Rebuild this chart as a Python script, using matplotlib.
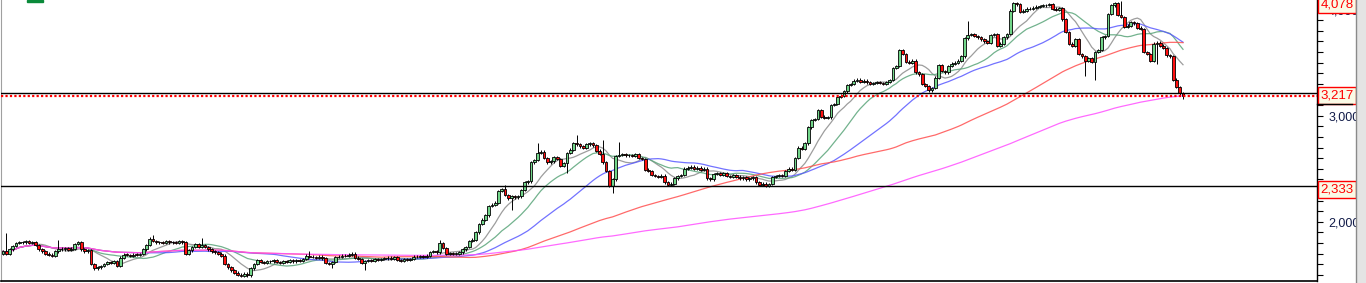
import numpy as np
import pandas as pd
import matplotlib
matplotlib.use("Agg")
import matplotlib.pyplot as plt
import matplotlib.transforms as mtransforms
from matplotlib.ticker import FixedLocator, MultipleLocator, FuncFormatter
from matplotlib.patches import Rectangle
from matplotlib.lines import Line2D

# daily closes, left to right (one list per stretch)
close_a = [1720, 1700, 1740, 1770, 1800, 1810, 1805, 1815, 1800, 1810,
           1780, 1740, 1720, 1700, 1690, 1680, 1720, 1745, 1740, 1750,
           1735, 1745, 1790, 1810, 1740, 1720, 1730, 1600, 1560, 1570,
           1580, 1600, 1620, 1610, 1630, 1580, 1660, 1690, 1685, 1680,
           1690, 1685, 1695, 1740, 1780, 1840, 1820, 1805, 1810, 1800,
           1815, 1805, 1810, 1800, 1815, 1805, 1700, 1730, 1760, 1790,
           1760]
close_b = [1780, 1760, 1740, 1720, 1710, 1700, 1680,
           1600, 1570,
           1540, 1520, 1500, 1490, 1510, 1495,
           1560, 1600, 1640,
           1620, 1610, 1630, 1625, 1640, 1620, 1615, 1630, 1620, 1635,
           1625, 1640, 1630, 1650,
           1680, 1670,
           1665, 1660, 1670, 1655,
           1610, 1600, 1620,
           1665, 1670, 1680, 1675, 1690, 1700,
           1660, 1650, 1610, 1630,
           1635, 1630, 1645, 1640,
           1650, 1655, 1660, 1650, 1665, 1640]
close_c = [1630, 1645, 1640, 1650,
           1670, 1665, 1675, 1670, 1680,
           1715, 1720, 1710,
           1800, 1750,
           1700, 1705, 1695, 1700, 1710,
           1740, 1760,
           1820, 1830,
           1900, 1980, 2020, 2060,
           2150, 2160, 2180,
           2290, 2310,
           2250, 2220, 2240, 2230, 2240,
           2300, 2370, 2380,
           2560, 2580,
           2650, 2660,
           2600, 2560, 2570,
           2610, 2590,
           2530, 2550,
           2650, 2680,
           2740, 2730,
           2710, 2700,
           2730, 2740, 2720, 2670]
close_d = [2640, 2560, 2480, 2340,
           2400,
           2620,
           2630, 2640, 2625, 2630, 2620, 2635,
           2600, 2590,
           2490, 2480,
           2440, 2430, 2420, 2435,
           2370, 2350, 2360,
           2410, 2430, 2440,
           2500, 2510, 2520, 2500, 2510, 2490, 2500,
           2410, 2400,
           2450, 2460, 2440, 2455,
           2430, 2420, 2440, 2425, 2410, 2420,
           2400, 2410, 2420,
           2370, 2350, 2360, 2340, 2355,
           2420, 2430, 2440, 2435,
           2480, 2500, 2490,
           2600, 2700]
close_e = [2690, 2740,
           2890,
           2960, 2970,
           3050,
           2990, 2980, 2985,
           3100, 3110,
           3180, 3190,
           3230,
           3290, 3300,
           3330, 3340,
           3320, 3330, 3315,
           3300, 3310, 3320,
           3310, 3300,
           3320, 3335,
           3450, 3470,
           3620,
           3580, 3510,
           3500, 3520,
           3410, 3390,
           3300, 3280,
           3240, 3260,
           3360,
           3480,
           3420, 3410,
           3470, 3490,
           3500, 3520,
           3560,
           3730,
           3760, 3770, 3750,
           3740, 3720,
           3700, 3690,
           3760, 3770,
           3660]
close_f = [3680, 3740, 3770,
           3990,
           4060, 4050,
           3980,
           3990, 4010, 4005,
           4020, 4030, 4035,
           4040, 4045, 4050,
           4010, 4000, 4015,
           3910,
           3790,
           3680, 3660,
           3720,
           3580, 3560,
           3520, 3540, 3510,
           3600, 3620,
           3740, 3750,
           3960,
           4040, 4060,
           3950, 3930,
           3840, 3850,
           3880, 3870,
           3830, 3820,
           3600, 3580,
           3520,
           3680, 3690,
           3660, 3640,
           3570, 3560,
           3340, 3270,
           3210, 3190]
closes = close_a + close_b + close_c + close_d + close_e + close_f
first_open = 1700

# candles with a visibly long wick: index -> (high, low)
long_wicks = {1: (1890, None), 17: (1825, None), 46: (1875, None),
              61: (1850, None), 94: (1720, None), 101: (None, 1560),
              111: (None, 1540), 134: (1830, None), 154: (2350, None),
              156: (None, 2110), 164: (2745, None), 173: (None, 2460),
              176: (2820, None), 184: (2770, None), 187: (None, 2270),
              189: (2750, None), 296: (3890, None), 332: (None, 3370),
              335: (None, 3340), 343: (4078, None), 354: (None, 3490),
              362: (None, 3160)}

ma_periods = [10, 20, 40, 90, 180]
ma_colors = ["#8c8c8c", "#5aa57a", "#5a5aff", "#ff5050", "#ff50ff"]

level_lines = [3217, 2333]
last_price = 3190
box_labels = [4078, 3217, 2333]
major_ticks = [2000, 3000, 4000]

W, H = 1366, 283
fig = plt.figure(figsize=(W / 100, H / 100), dpi=100)
fig.patch.set_facecolor("white")
ax = fig.add_axes([1 / W, 2 / H, 1316 / W, 281 / H])

n = len(closes)
idx = np.arange(n)
c = np.array(closes, dtype=float)
o = np.r_[first_open, c[:-1]]
hi = np.maximum(o, c) + 12
lo = np.minimum(o, c) - 12
for i, (h, l) in long_wicks.items():
    if i < n:
        if h is not None:
            hi[i] = h
        if l is not None:
            lo[i] = l

# moving averages
s = pd.Series(c)
for p, col in zip(ma_periods, ma_colors):
    ax.plot(idx, s.rolling(p, min_periods=1).mean(), color=col, lw=0.9,
            alpha=0.85, zorder=2)

# candles
up = c >= o
body_lo = np.minimum(o, c)
body_h = np.maximum(np.abs(c - o), 6)
ax.vlines(idx, lo, hi, color="black", lw=0.7, zorder=3)
ax.bar(idx, body_h, bottom=body_lo, width=0.85,
       color=np.where(up, "#72d68a", "#ff1010"), edgecolor="black",
       linewidth=0.6, zorder=4)

for v in level_lines:
    ax.axhline(v, color="black", lw=1.0, zorder=5)
ax.axhline(last_price, color="#ff0000", lw=1.6, ls=(0, (1, 1)), zorder=5)

# spacing: first candle at x=3px, last at x=1183px
step = (1183 - 3) / (n - 1)
ax.set_xlim(-(3 - 1) / step, (1317 - 3) / step)
y_top, y_bot = 4091.5, 1440.6
ax.set_ylim(y_bot, y_top)

ax.yaxis.tick_right()
ax.yaxis.set_major_locator(FixedLocator(major_ticks))
ax.yaxis.set_minor_locator(MultipleLocator(100))
ax.yaxis.set_major_formatter(FuncFormatter(lambda v, p: f"{int(v):,}"))
ax.tick_params(axis="y", which="both", direction="out", length=4,
               width=0.8, color="black", pad=4, labelsize=9,
               labelcolor="#101a48")
for t in ax.get_yticklabels():
    t.set_family("Liberation Sans")
ax.set_xticks([])

ax.spines["top"].set_visible(False)
ax.spines["left"].set_color("#a0a0a0")
ax.spines["right"].set_color("black")
ax.spines["bottom"].set_color("black")
ax.spines["right"].set_linewidth(1.0)
ax.spines["bottom"].set_linewidth(1.2)

# price boxes on the right axis
trans = mtransforms.blended_transform_factory(ax.transAxes, ax.transData)
for v in box_labels:
    ax.annotate(f"{v:,}", xy=(1.0, v), xycoords=trans, xytext=(2.6, -2.2),
                textcoords="offset points", ha="left", va="center",
                color="#ff0000", fontsize=9.5, family="Liberation Sans",
                annotation_clip=False, zorder=10,
                bbox=dict(boxstyle="square,pad=0.18", fc="#fafae6",
                          ec="#ff0000", lw=1.0))

# dark shadow line under the 3,217 box
fig.add_artist(Line2D([1317 / W, 1352 / W], [1 - 104 / H, 1 - 104 / H],
                      transform=fig.transFigure, color="black", lw=1))

# small legend chip at the top left and the right frame strip
fig.add_artist(Rectangle((27 / W, 1 - 2 / H), 16 / W, 2 / H,
                         transform=fig.transFigure, color="#0a8a3a"))
fig.add_artist(Line2D([1356 / W, 1356 / W], [0, 1], transform=fig.transFigure,
                      color="#8a8a8a", lw=1))
fig.add_artist(Rectangle((1357 / W, 0), 9 / W, 1, transform=fig.transFigure,
                         color="#e4e4e4"))

fig.savefig("out.png", dpi=100)
